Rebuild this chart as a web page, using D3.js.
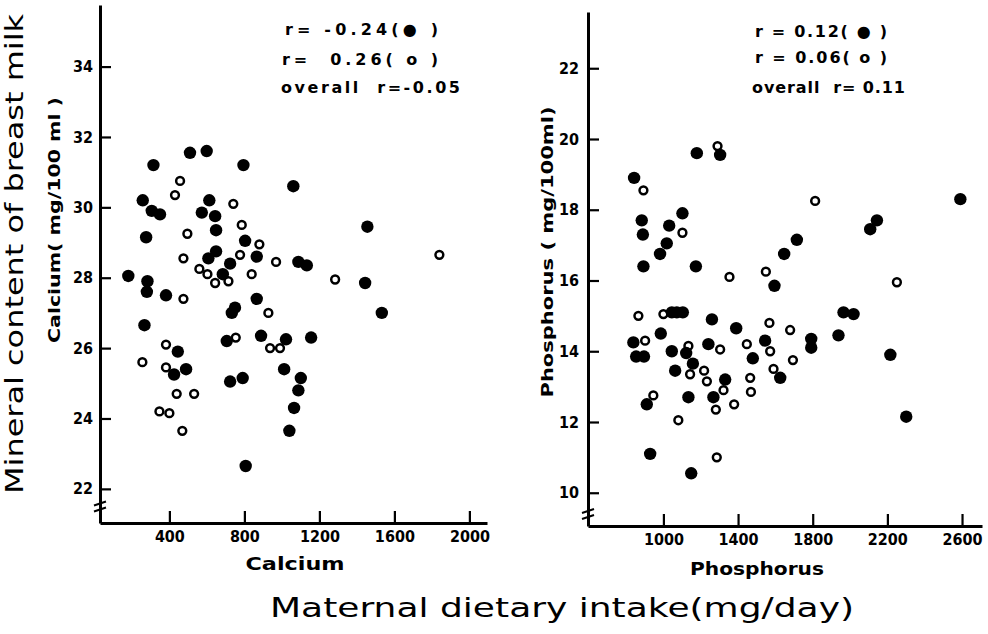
<!DOCTYPE html>
<html>
<head>
<meta charset="utf-8">
<script src="https://cdn.jsdelivr.net/npm/d3@7"></script>
<style>
body{margin:0;background:#fff;}
svg text{font-family:"DejaVu Sans",sans-serif;fill:#000;white-space:pre;}
</style>
</head>
<body>
<svg id="chart" width="988" height="634"></svg>
<script>
// calcium panel, filled = group 1, open = group 2
var caFilledX = [258,306,350,613,573,644,649,276,804,649,608,724,685,866,1088,1133,181,283,280,382,866,315,510,599,795,1061,1456,1444,1533,733,750,267,706,889,1022,1156,445,489,425,1012,724,791,1101,1088,1065,1040,807];
var caFilledY = [30.2,29.9,29.8,30.2,29.85,29.75,29.35,29.15,29.05,28.75,28.55,28.4,28.1,28.6,28.45,28.35,28.05,27.9,27.6,27.5,27.4,31.2,31.55,31.6,31.2,30.6,29.45,27.85,27.0,27.0,27.15,26.65,26.2,26.35,26.25,26.3,25.9,25.4,25.25,25.4,25.05,25.15,25.15,24.8,24.3,23.65,22.65];
var caOpenX = [430,457,741,496,786,880,777,475,969,560,603,644,715,839,1284,475,1840,928,754,990,937,382,256,382,439,532,347,400,469];
var caOpenY = [30.35,30.75,30.1,29.25,29.5,28.95,28.65,28.55,28.45,28.25,28.1,27.85,27.9,28.1,27.95,27.4,28.65,27.0,26.3,26.0,26.0,26.1,25.6,25.45,24.7,24.7,24.2,24.15,23.65];
var caTicksX = [400,800,1200,1600,2000];
var caTicksY = [22,24,26,28,30,32,34];
var caNotes = ["r= -0.24(● )", "r=  0.26( o )", "overall  r=-0.05"];

// phosphorus panel
var pFilledX = [1179,1304,843,884,890,1031,1018,982,1102,2591,2144,2108,1715,1647,893,1174,1595,1045,1072,1104,1260,1390,986,839,854,896,1045,1122,1241,1545,1479,1158,1063,1626,1331,911,1134,1268,929,1149,1792,1792,1938,1965,2019,2216,2301];
var pFilledY = [19.6,19.55,18.9,17.7,17.3,17.55,17.05,16.75,17.9,18.3,17.7,17.45,17.15,16.75,16.4,16.4,15.85,15.1,15.1,15.1,14.9,14.65,14.5,14.25,13.85,13.85,14.0,13.95,14.2,14.3,13.8,13.65,13.45,13.25,13.2,12.5,12.7,12.7,11.1,10.55,14.35,14.1,14.45,15.1,15.05,13.9,12.15];
var pOpenX = [1290,893,1102,1813,1354,1549,2251,866,1000,1568,1679,902,1134,1304,1447,1572,1694,1143,1218,1233,1590,1322,1465,1469,946,1281,1379,1080,1286];
var pOpenY = [19.8,18.55,17.35,18.25,16.1,16.25,15.95,15.0,15.05,14.8,14.6,14.3,14.15,14.05,14.2,14.0,13.75,13.35,13.45,13.15,13.5,12.9,13.25,12.85,12.75,12.35,12.5,12.05,11.0];
var pTicksX = [1000,1400,1800,2200,2600];
var pTicksY = [10,12,14,16,18,20,22];
var pNotes = ["r = 0.12( ● )", "r = 0.06( o )", "overall  r= 0.11"];

var svg = d3.select("#chart");
svg.append("rect").attr("width",988).attr("height",634).attr("fill","#fff");

function drawPanel(p){
	var x = d3.scaleLinear().domain(p.xDom).range([p.left, p.right]);
	var y = d3.scaleLinear().domain(p.yDom).range([p.bottom, p.top]);
	var g = svg.append("g");

	//坐标轴, ticks point inward
	var ax = g.append("g").attr("transform","translate(0," + p.bottom + ")")
		.call(d3.axisBottom(x).tickValues(p.ticksX).tickFormat(d3.format("d"))
			.tickSize(-12).tickSizeOuter(0).tickPadding(8));
	var ay = g.append("g").attr("transform","translate(" + p.left + ",0)")
		.call(d3.axisLeft(y).tickValues(p.ticksY).tickFormat(d3.format("d"))
			.tickSize(-11).tickSizeOuter(0).tickPadding(p.yPad));
	[ax, ay].forEach(function(a){
		a.select(".domain").attr("stroke","#000").attr("stroke-width",3);
		a.selectAll(".tick line").attr("stroke","#000").attr("stroke-width",2.2);
		// narrow, heavy digits like the printed figure
		a.selectAll(".tick text").style("font-size","16px").style("font-weight","bold").attr("fill","#000")
			.attr("lengthAdjust","spacingAndGlyphs")
			.attr("textLength", function(d){ return String(d).length * 10; });
	});

	// axis break marks
	var by = y(p.breakAt);
	[-3, 3].forEach(function(d){
		g.append("line").attr("x1", p.left - 6).attr("y1", by + d + 2)
			.attr("x2", p.left + 6).attr("y2", by + d - 2)
			.attr("stroke","#000").attr("stroke-width",2);
	});

	// points
	g.selectAll(".open").data(d3.range(p.openX.length)).enter().append("circle")
		.attr("cx", function(i){ return x(p.openX[i]); })
		.attr("cy", function(i){ return y(p.openY[i]); })
		.attr("r", 3.9).attr("fill","#fff").attr("stroke","#000").attr("stroke-width",2.5);
	g.selectAll(".filled").data(d3.range(p.filledX.length)).enter().append("circle")
		.attr("cx", function(i){ return x(p.filledX[i]); })
		.attr("cy", function(i){ return y(p.filledY[i]); })
		.attr("r", 6.2).attr("fill","#000");

	// r values
	p.notes.forEach(function(t, i){
		g.append("text").attr("x", p.noteX[i]).attr("y", p.noteY[i])
			.attr("textLength", p.noteW[i]).attr("lengthAdjust","spacing")
			.style("font-size","16px").style("font-weight","bold").text(t);
	});
}

drawPanel({xDom:[30,2094], yDom:[21.03,35.75], left:100, right:487, top:5, bottom:523,
	ticksX:caTicksX, ticksY:caTicksY, yPad:7, breakAt:21.5,
	filledX:caFilledX, filledY:caFilledY, openX:caOpenX, openY:caOpenY,
	notes:caNotes, noteX:[285,282,281], noteY:[35,65,93], noteW:[153,156,179]});

drawPanel({xDom:[596,2707], yDom:[9.06,23.59], left:588, right:982, top:12, bottom:526,
	ticksX:pTicksX, ticksY:pTicksY, yPad:9, breakAt:9.4,
	filledX:pFilledX, filledY:pFilledY, openX:pOpenX, openY:pOpenY,
	notes:pNotes, noteX:[755,755,752], noteY:[37,63,93], noteW:[132,132,153]});

// titles
function label(txt, cx, cy, size, w, rot, bold){
	svg.append("text")
		.attr("transform","translate(" + cx + "," + cy + ")" + (rot ? " rotate(-90)" : ""))
		.attr("text-anchor","middle").attr("textLength", w).attr("lengthAdjust","spacingAndGlyphs")
		.style("font-size", size + "px").style("font-weight", bold ? "bold" : "normal").text(txt);
}
label("Mineral content of breast milk", 23, 254, 25, 480, true, false);
label("Calcium( mg/100 ml )", 60, 220, 16, 246, true, true);
label("Phosphorus ( mg/100ml)", 553, 252, 16, 291, true, true);
label("Calcium", 295, 570, 17, 99, false, true);
label("Phosphorus", 757, 575, 17, 134, false, true);
label("Maternal dietary intake(mg/day)", 562, 617, 27, 584, false, false);
</script>
</body>
</html>
